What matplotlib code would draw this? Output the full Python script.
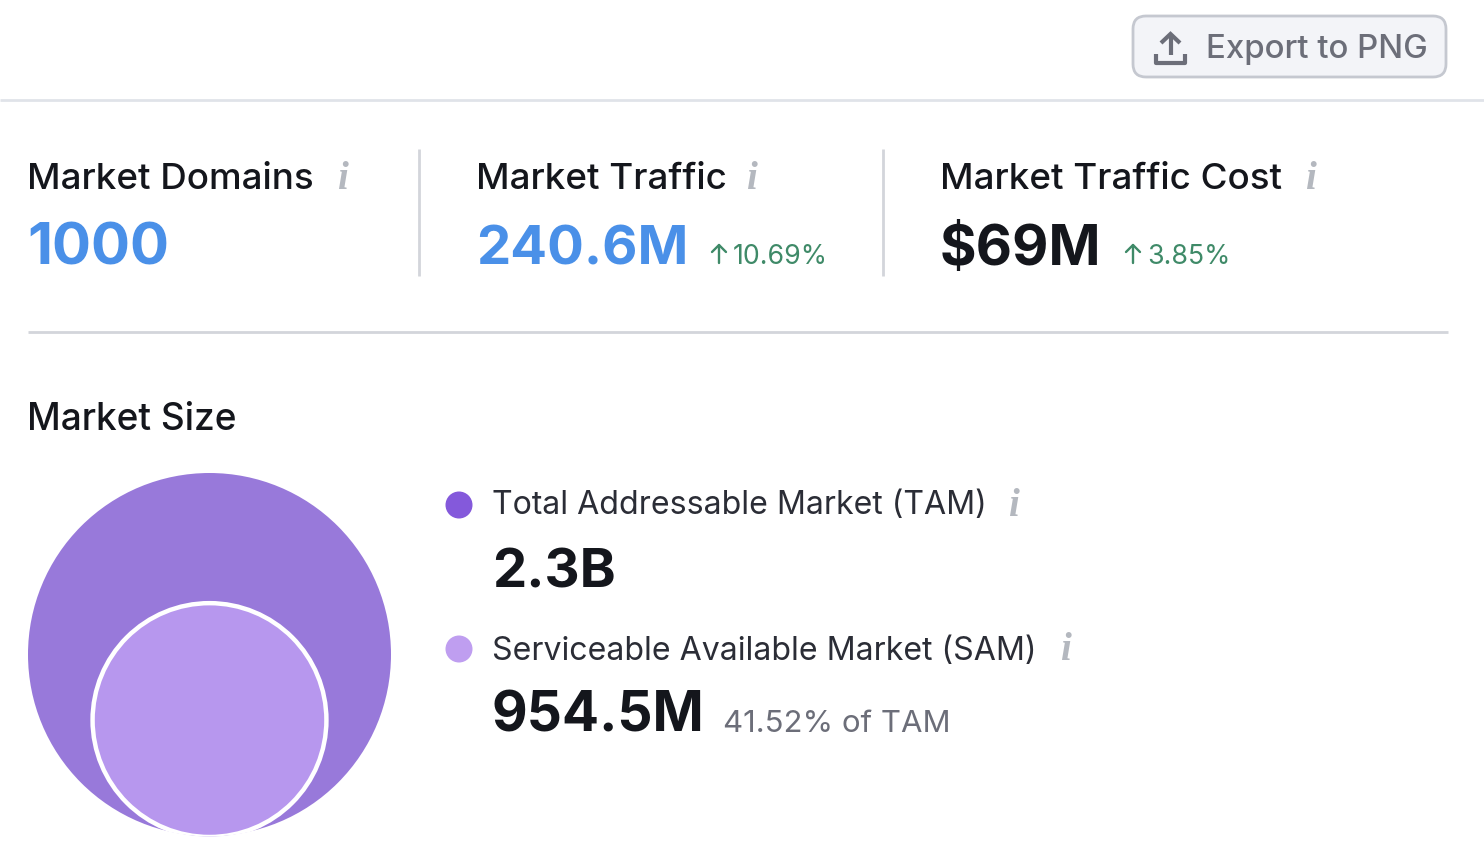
import numpy as np
import matplotlib
matplotlib.use('Agg')
import matplotlib.pyplot as plt
from matplotlib.patches import Circle, FancyBboxPatch

plt.rcParams['font.family'] = ['Inter', 'DejaVu Sans']
plt.rcParams['lines.solid_capstyle'] = 'butt'

kpi_titles = ['Market Domains', 'Market Traffic', 'Market Traffic Cost']
kpi_values = ['1000', '240.6M', '$69M']
kpi_changes = [None, '10.69%', '3.85%']
kpi_colors = ['#4a90e8', '#4a90e8', '#14161c']
kpi_value_size = [58, 54.5, 56]
kpi_x = [27, 476, 940]
kpi_info_x = [342, 751, 1310]
kpi_change_x = [None, 733, 1147]

tam_value = 2.3e9
sam_value = 954.5e6
sam_share = '41.52% of TAM'
market_names = ['Total Addressable Market (TAM)', 'Serviceable Available Market (SAM)']
market_labels = ['2.3B', '954.5M']
market_colors = ['#8459db', '#bf9ef0']

DARK = '#14161c'
GREY = '#6c6e79'
ICON = '#b4b8bf'
GREEN = '#3f8a68'
RULE = '#d3d5db'


def px(size):
    # font size given in pixels of the 100 dpi figure
    return size * 0.72


def info(ax, x, y):
    ax.text(x, y, 'i', fontsize=px(39), family='Liberation Serif', style='italic',
            color=ICON, ha='center', va='center', weight='bold')


def up_arrow(ax, x, y):
    ax.plot([x, x], [y - 9, y + 9], color=GREEN, lw=1.7, solid_capstyle='round')
    ax.plot([x - 7, x, x + 7], [y - 2, y - 9, y - 2], color=GREEN, lw=1.7,
            solid_capstyle='round', solid_joinstyle='round')


fig = plt.figure(figsize=(14.84, 8.62), dpi=100)
ax = fig.add_axes([0, 0, 1, 1])
ax.set_xlim(0, 1484)
ax.set_ylim(861, -1)
ax.axis('off')

# export button
ax.add_patch(FancyBboxPatch((1133, 16), 313, 61, boxstyle='round,pad=0,rounding_size=13',
                            fc='#f3f4f8', ec='#c5c8d0', lw=2))
ax.plot([1156, 1156, 1185, 1185], [54, 63, 63, 54], color=GREY, lw=3, solid_joinstyle='round')
ax.plot([1170.5, 1170.5], [35, 55], color=GREY, lw=3)
ax.plot([1161, 1170.5, 1180], [43, 34, 43], color=GREY, lw=3, solid_joinstyle='miter')
ax.text(1206, 48, 'Export to PNG', fontsize=px(33), color=GREY, va='center', ha='left', weight='medium')

# rules
ax.plot([0, 1484], [100, 100], color='#e0e3e9', lw=2)
ax.plot([28, 1448], [332, 332], color=RULE, lw=2)
ax.plot([418.5, 418.5], [149, 276], color=RULE, lw=2)
ax.plot([883, 883], [149, 276], color=RULE, lw=2)

# kpi row
for i in range(len(kpi_titles)):
    ax.text(kpi_x[i], 188, kpi_titles[i], fontsize=px(36.8), color=DARK, ha='left', va='baseline', weight='medium')
    info(ax, kpi_info_x[i], 178)
    ax.text(kpi_x[i], 263.5, kpi_values[i], fontsize=px(kpi_value_size[i]), color=kpi_colors[i],
            ha='left', va='baseline', weight='bold')
    if kpi_changes[i] is not None:
        up_arrow(ax, kpi_change_x[i] - 14, 254)
        ax.text(kpi_change_x[i], 263, kpi_changes[i], fontsize=px(26.7), color=GREEN, ha='left', va='baseline')

ax.text(27, 429, 'Market Size', fontsize=px(37), color=DARK, ha='left', va='baseline', weight='medium')

# nested circles, area follows the market value
R = 181.5
cx, big_cy = 209.5, 654.5
r_sam = R * np.sqrt(sam_value / tam_value)
big = Circle((cx, big_cy), R, fc='#9879da', ec='none')
ax.add_patch(big)
small = Circle((cx, big_cy + R - r_sam + 1), r_sam, fc='#b797ee', ec='white', lw=3.2)
ax.add_patch(small)
small.set_clip_path(Circle((cx, big_cy), R + 0.5, transform=ax.transData))

# legend
name_y = [513, 659]
value_y = [586, 731]
value_size = [54.5, 55]
dot_y = [505, 649]
name_info_x = [1013, 1065]
for i in range(2):
    ax.add_patch(Circle((459, dot_y[i]), 13.5, fc=market_colors[i], ec='none'))
    ax.text(492, name_y[i], market_names[i], fontsize=px(32.1), color='#2b2d36', ha='left', va='baseline')
    info(ax, name_info_x[i], 506 + 144 * i)
    ax.text(492, value_y[i], market_labels[i], fontsize=px(value_size[i]), color=DARK, ha='left', va='baseline', weight='bold')
ax.text(723, 731, sam_share, fontsize=px(31.1), color=GREY, ha='left', va='baseline')

fig.savefig('out.png', dpi=100, facecolor='white')
